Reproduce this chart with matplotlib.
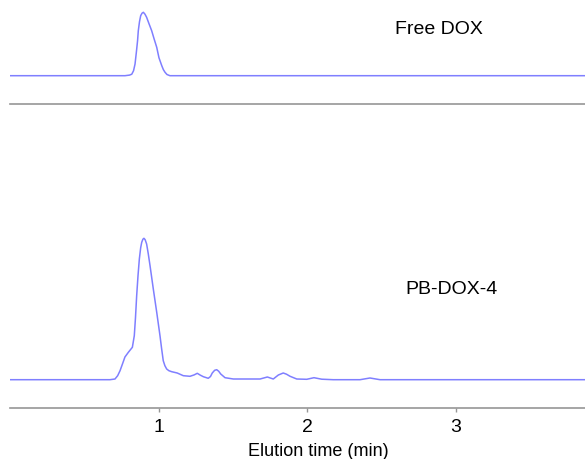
import numpy as np
import matplotlib
matplotlib.use("Agg")
import matplotlib.pyplot as plt

plt.rcParams["font.family"] = ["Liberation Sans", "DejaVu Sans"]

# ---- chromatogram traces (time in min, detector signal in a.u.) ----
free_time = [0.0, 0.774, 0.805, 0.820, 0.832, 0.842, 0.852, 0.859, 0.864,
             0.872, 0.880, 0.889, 0.898, 0.909, 0.920, 0.936, 0.954, 0.970,
             0.988, 1.003, 1.022, 1.033, 1.044, 1.057, 1.077, 3.872]
free_signal = [0.0, 0.0, 0.6, 1.5, 5.0, 11.7, 25.0, 35.0, 45.0,
               54.0, 60.0, 62.5, 63.4, 61.5, 58.4, 52.0, 45.0, 37.0,
               28.4, 18.0, 10.0, 6.0, 3.4, 1.2, 0.0, 0.0]

pb_time = [0.0, 0.673, 0.707, 0.725, 0.741, 0.758, 0.774, 0.797, 0.824,
           0.837, 0.845, 0.853, 0.862, 0.871, 0.880, 0.887, 0.895, 0.902,
           0.910, 0.920, 0.931, 0.943, 0.965, 0.988, 1.010, 1.021, 1.032,
           1.043, 1.055, 1.070, 1.089, 1.126, 1.167, 1.212, 1.240, 1.261,
           1.282, 1.302, 1.335, 1.350, 1.362, 1.378, 1.392, 1.405, 1.419,
           1.448, 1.504, 1.684, 1.733, 1.773, 1.807, 1.840, 1.862, 1.886,
           1.931, 1.998, 2.047, 2.099, 2.177, 2.357, 2.424, 2.492, 3.872]
pb_signal = [0.0, 0.0, 0.7, 4.0, 9.0, 16.0, 22.7, 27.4, 32.4,
             44.0, 62.0, 84.0, 104.0, 120.7, 132.0, 137.4, 140.5, 141.4,
             140.0, 135.7, 126.0, 114.0, 90.7, 67.4, 44.0, 31.0, 19.0,
             14.0, 10.7, 9.0, 8.0, 6.7, 4.0, 3.4, 4.8, 6.4,
             4.5, 3.0, 1.4, 3.2, 6.7, 9.4, 10.0, 8.5, 5.7,
             2.0, 0.7, 0.7, 2.7, 0.7, 4.7, 6.7, 5.5, 3.4,
             0.7, 0.4, 2.0, 0.5, 0.0, 0.0, 1.7, 0.0, 0.0]

x_ticks = [1, 2, 3]
line_color = "#7f7fff"
axis_color = "#969696"

W, H = 585, 460
fig = plt.figure(figsize=(W / 100, H / 100), dpi=100)

# top panel: free drug
ax1 = fig.add_axes([10 / W, 1 - 104.5 / H, 575 / W, 104.5 / H])
ax1.plot(free_time, free_signal, color=line_color, lw=1.1)
ax1.set_xlim(0, 3.872)
ax1.set_ylim(-27.8, 76.7)
ax1.text(2.593, 42.7, "Free DOX", fontsize=14, va="baseline", ha="left")

# bottom panel: conjugate
ax2 = fig.add_axes([10 / W, 1 - 409 / H, 575 / W, 299 / H])
ax2.plot(pb_time, pb_signal, color=line_color, lw=1.1)
ax2.set_xlim(0, 3.872)
ax2.set_ylim(-28.3, 270.7)
ax2.text(2.660, 86.7, "PB-DOX-4", fontsize=14, va="baseline", ha="left")

for ax in (ax1, ax2):
    for side in ("top", "left", "right"):
        ax.spines[side].set_visible(False)
    ax.spines["bottom"].set_color(axis_color)
    ax.spines["bottom"].set_linewidth(1.2)
    ax.set_yticks([])
    ax.patch.set_alpha(0)

ax1.set_xticks([])
ax2.set_xticks(x_ticks)
ax2.set_xticklabels([str(t) for t in x_ticks])
ax2.tick_params(axis="x", direction="out", length=3, width=1,
                color=axis_color, labelsize=14, pad=4)
ax2.set_xlabel("Elution time (min)", fontsize=13, labelpad=0)
ax2.xaxis.set_label_coords(0.5365, -0.115)

fig.savefig("out.png", dpi=100)
